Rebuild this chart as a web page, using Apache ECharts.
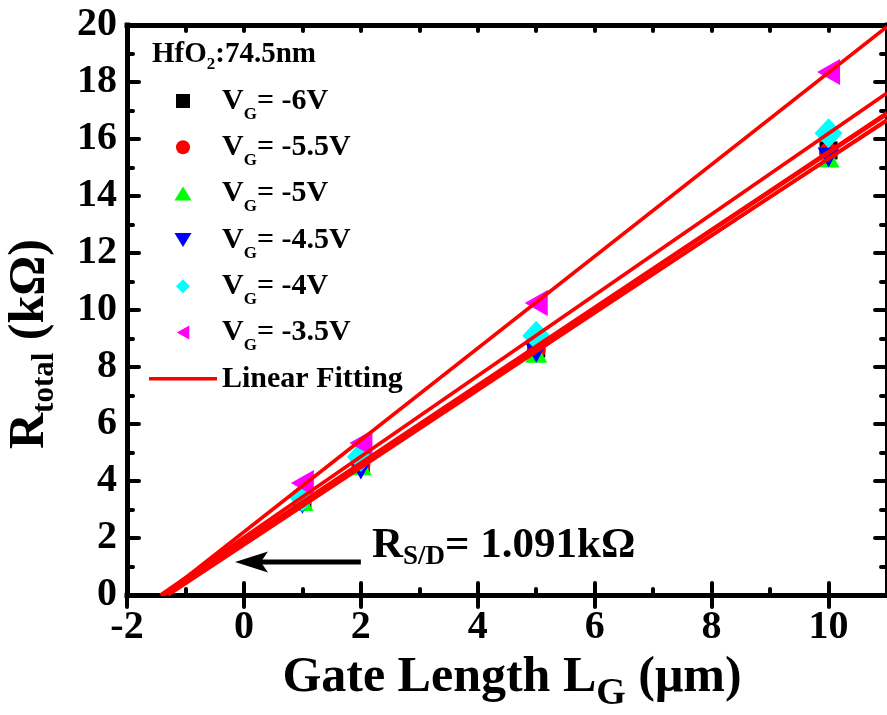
<!DOCTYPE html>
<html>
<head>
<meta charset="utf-8">
<script src="https://cdn.jsdelivr.net/npm/echarts@6/dist/echarts.min.js"></script>
<style>
  html, body { margin: 0; padding: 0; background: #fff; }
  #chart { width: 887px; height: 715px; }
</style>
</head>
<body>
<div id="chart"></div>
<script>
// Gate lengths (µm) and total resistance (kΩ) for each gate voltage
const gateLengths = [1, 2, 5, 10];
const gateVoltages = ['-6V', '-5.5V', '-5V', '-4.5V', '-4V', '-3.5V'];
const rTotalVg60 = [3.35, 4.60, 8.65, 15.60];
const rTotalVg55 = [3.35, 4.55, 8.60, 15.55];
const rTotalVg50 = [3.30, 4.55, 8.50, 15.35];
const rTotalVg45 = [3.20, 4.40, 8.50, 15.35];
const rTotalVg40 = [3.45, 4.85, 9.10, 16.20];
const rTotalVg35 = [3.93, 5.33, 10.25, 18.35];
const xTickValues = [-2, 0, 2, 4, 6, 8, 10];
const yTickValues = [0, 2, 4, 6, 8, 10, 12, 14, 16, 18, 20];
const rsdText = '1.091kΩ';

// Arrow annotation pointing at the extrapolated intercept (data coordinates):
// shaft tail, and the centre of the arrow head
const arrowTail = [2.0, 1.16];
const arrowHead = [0.13, 1.16];

const FONT = '"Liberation Serif", "Times New Roman", serif';
const seriesValues = [rTotalVg60, rTotalVg55, rTotalVg50, rTotalVg45, rTotalVg40, rTotalVg35];
const colors = ['#000000', '#ff0000', '#00ff00', '#0000ff', '#00ffff', '#ff00ff'];
const symbols = [
  'path://M0,0 L10,0 L10,10 L0,10 Z',
  'circle',
  'path://M11,0 L22,20 L0,20 Z',
  'path://M0,0 L22,0 L11,20 Z',
  'path://M10,0 L20,10 L10,20 L0,10 Z',
  'path://M23,0 L23,26 L0,13 Z'
];
const symbolSizes = [18, 19, [22, 20], [22, 20], [28, 30], [23, 26]];
const legendIcons = [
  'path://M0,0 L10,0 L10,10 L0,10 Z',
  'circle',
  'path://M11,0 L22,18 L0,18 Z',
  'path://M0,0 L22,0 L11,18 Z',
  'path://M10,0 L20,10 L10,20 L0,10 Z',
  'path://M18,0 L18,20 L0,10 Z'
];

function linearFit(xs, ys) {
  const n = xs.length;
  const mx = xs.reduce((a, b) => a + b, 0) / n;
  const my = ys.reduce((a, b) => a + b, 0) / n;
  let sxx = 0, sxy = 0;
  for (let i = 0; i < n; i++) {
    sxx += (xs[i] - mx) * (xs[i] - mx);
    sxy += (xs[i] - mx) * (ys[i] - my);
  }
  const slope = sxy / sxx;
  return { slope, intercept: my - slope * mx };
}

const X_MIN = -2, X_MAX = 11, Y_MIN = 0, Y_MAX = 20;

const scatterSeries = seriesValues.map((vals, i) => ({
  name: 'V_G= ' + gateVoltages[i],
  type: 'scatter',
  xAxisIndex: 0,
  yAxisIndex: 0,
  symbol: symbols[i],
  symbolSize: symbolSizes[i],
  itemStyle: { color: colors[i], opacity: 1 },
  data: gateLengths.map((x, j) => [x, vals[j]]),
  z: 3
}));

const fitSeries = seriesValues.map((vals) => {
  const f = linearFit(gateLengths, vals);
  const x0 = -f.intercept / f.slope;
  return {
    name: 'Linear Fitting',
    type: 'line',
    xAxisIndex: 0,
    yAxisIndex: 0,
    symbol: 'none',
    showSymbol: false,
    clip: true,
    lineStyle: { color: '#ff0000', width: 3.5 },
    itemStyle: { color: '#ff0000' },
    data: [[x0, 0], [X_MAX, f.intercept + f.slope * X_MAX]],
    z: 4
  };
});

// Arrow: black shaft with a filled head at its left end
const arrowSeries = {
  name: 'arrow',
  type: 'line',
  xAxisIndex: 0,
  yAxisIndex: 0,
  silent: true,
  showSymbol: true,
  symbol: 'none',
  lineStyle: { color: '#000', width: 5 },
  itemStyle: { color: '#000' },
  data: [
    { value: arrowTail, symbol: 'none' },
    { value: arrowHead, symbol: 'path://M0,10 L32,0 L25,10 L32,20 Z', symbolSize: [33, 21] }
  ],
  z: 5
};

const tickLine = { color: '#000', width: 4, cap: 'round' };
const axisLine = { show: true, onZero: false, lineStyle: { color: '#000', width: 5, cap: 'square' } };

function xAxisPair(position, withLabels) {
  return [
    {
      type: 'value', position, min: X_MIN, max: X_MAX, interval: 1,
      axisLine,
      axisTick: { show: true, inside: true, length: 6, lineStyle: tickLine },
      axisLabel: { show: false },
      splitLine: { show: false }
    },
    {
      type: 'value', position, min: X_MIN, max: X_MAX, interval: 1,
      axisLine: { show: false },
      axisTick: { show: true, inside: true, length: 12, lineStyle: tickLine, customValues: xTickValues },
      axisLabel: withLabels ? {
        show: true, customValues: xTickValues, margin: 13,
        fontFamily: FONT, fontWeight: 'bold', fontSize: 40, color: '#000', lineHeight: 40
      } : { show: false },
      splitLine: { show: false }
    }
  ];
}

function yAxis(position, withLabels) {
  return {
    type: 'value', position, min: Y_MIN, max: Y_MAX, interval: 2,
    axisLine,
    axisTick: { show: true, inside: true, length: 12, lineStyle: tickLine },
    minorTick: { show: true, splitNumber: 2, length: 6, lineStyle: tickLine },
    axisLabel: withLabels ? {
      show: true, margin: 10, fontFamily: FONT, fontWeight: 'bold', fontSize: 40, color: '#000',
      customValues: yTickValues
    } : { show: false },
    splitLine: { show: false },
    minorSplitLine: { show: false }
  };
}

const legendRich = {
  m: { fontFamily: FONT, fontWeight: 'bold', fontSize: 30, color: '#000', lineHeight: 44 },
  sub: { fontFamily: FONT, fontWeight: 'bold', fontSize: 17, color: '#000', lineHeight: 10, verticalAlign: 'bottom' }
};

const option = {
  animation: false,
  backgroundColor: '#ffffff',
  grid: { left: 127, top: 25, width: 767, height: 570, containLabel: false },
  xAxis: [...xAxisPair('bottom', true), ...xAxisPair('top', false)],
  yAxis: [yAxis('left', true), yAxis('right', false)],
  legend: {
    orient: 'vertical',
    left: 149,
    top: 86,
    padding: 0,
    itemWidth: 68,
    itemHeight: 14,
    itemGap: 9.3,
    symbolKeepAspect: true,
    selectedMode: false,
    data: [
      ...scatterSeries.map((s, i) => ({ name: s.name, icon: legendIcons[i] })),
      { name: 'Linear Fitting', icon: 'path://M0,0 L68,0 L68,3.5 L0,3.5 Z' }
    ],
    formatter: (name) => name.startsWith('V_G')
      ? '{m|V}{sub|G}{m|' + name.slice(3) + '}'
      : '{m|' + name + '}',
    textStyle: { fontFamily: FONT, fontWeight: 'bold', fontSize: 30, color: '#000', rich: legendRich }
  },
  graphic: [
    {
      type: 'text', x: 152, y: 55, z: 10,
      style: {
        text: '{m|HfO}{s|2}{m|:74.5nm}', align: 'left', verticalAlign: 'middle',
        rich: {
          m: { fontFamily: FONT, fontWeight: 'bold', fontSize: 29, fill: '#000', lineHeight: 36 },
          s: { fontFamily: FONT, fontWeight: 'bold', fontSize: 17, fill: '#000', lineHeight: 8, verticalAlign: 'bottom' }
        }
      }
    },
    {
      type: 'text', x: 372, y: 546, z: 10,
      style: {
        text: '{m|R}{s|S/D}{m|= ' + rsdText + '}', align: 'left', verticalAlign: 'middle',
        rich: {
          m: { fontFamily: FONT, fontWeight: 'bold', fontSize: 43, fill: '#000', lineHeight: 50 },
          s: { fontFamily: FONT, fontWeight: 'bold', fontSize: 27, fill: '#000', lineHeight: 20, verticalAlign: 'bottom' }
        }
      }
    },
    {
      type: 'text', x: 512, y: 678, z: 10,
      style: {
        text: '{m|Gate Length L}{s|G}{m| (\u03bcm)}', align: 'center', verticalAlign: 'middle',
        rich: {
          m: { fontFamily: FONT, fontWeight: 'bold', fontSize: 50, fill: '#000', lineHeight: 70 },
          s: { fontFamily: FONT, fontWeight: 'bold', fontSize: 38, fill: '#000', lineHeight: 34, verticalAlign: 'bottom' }
        }
      }
    },
    {
      type: 'text', x: 30, y: 344, rotation: Math.PI / 2, z: 10,
      style: {
        text: '{m|R}{s|total}{m| (k\u03a9)}', align: 'center', verticalAlign: 'middle',
        rich: {
          m: { fontFamily: FONT, fontWeight: 'bold', fontSize: 50, fill: '#000', lineHeight: 60 },
          s: { fontFamily: FONT, fontWeight: 'bold', fontSize: 31, fill: '#000', lineHeight: 40, verticalAlign: 'bottom' }
        }
      }
    }
  ],
  series: [...scatterSeries, ...fitSeries, arrowSeries]
};

const chart = echarts.init(document.getElementById('chart'), null, { renderer: 'canvas' });
chart.setOption(option);
</script>
</body>
</html>
